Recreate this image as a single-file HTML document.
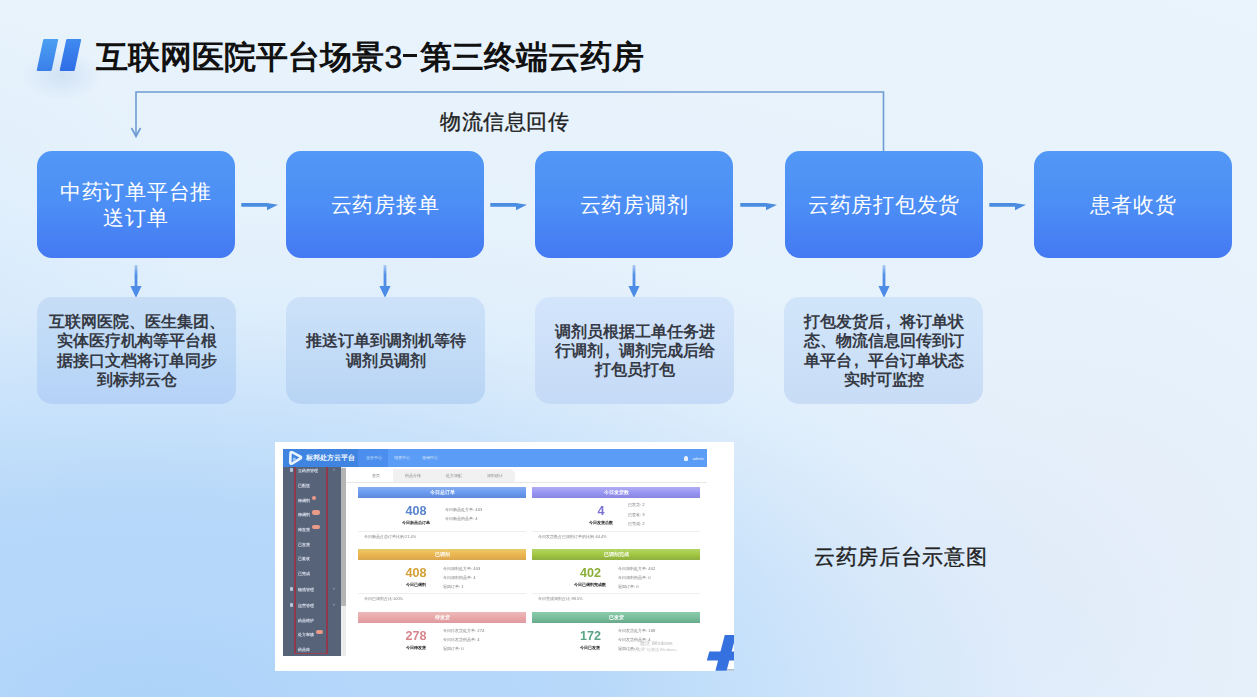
<!DOCTYPE html>
<html><head><meta charset="utf-8">
<style>
*{margin:0;padding:0;box-sizing:border-box}
html,body{width:1257px;height:697px;overflow:hidden}
body{position:relative;font-family:"Liberation Sans",sans-serif;
background:
 radial-gradient(ellipse 330px 300px at 1080px 560px, rgba(226,226,242,0.3), rgba(226,226,242,0.15) 50%, rgba(226,226,242,0) 100%),
 radial-gradient(ellipse 230px 280px at -40px 290px, rgba(173,211,249,0.16), rgba(173,211,249,0) 100%),
 radial-gradient(ellipse 1100px 500px at 150px 700px, rgba(173,211,249,1) 0%, rgba(173,211,249,0.89) 20%, rgba(173,211,249,0.835) 40%, rgba(173,211,249,0.506) 60%, rgba(173,211,249,0.176) 80%, rgba(173,211,249,0.058) 100%, rgba(173,211,249,0.031) 150%, rgba(173,211,249,0) 200%),
 #eaf4fc;
}
.abs{position:absolute}
.n3{display:inline-block;margin-left:0.5px;font-size:32px;letter-spacing:-1.3px;font-weight:normal;-webkit-text-stroke:0.6px #111}
.dash{display:inline-block;width:14px;height:3px;background:#111;margin:0 3px 0 1.5px;vertical-align:11px}
.title{left:96px;top:35px;font-size:32px;font-weight:bold;color:#111;letter-spacing:0;white-space:nowrap;line-height:44px}
.bar{position:absolute;width:14.5px;height:31.5px;transform:skewX(-12deg);border-radius:1px}
.box{position:absolute;top:151px;width:198px;height:107px;border-radius:15px;
 background:linear-gradient(180deg,#5298f6 0%,#4c8ef5 50%,#4479f3 100%);
 color:#fff;font-size:21px;letter-spacing:0.7px;line-height:25.8px;padding-top:1px;text-align:center;display:flex;align-items:center;justify-content:center;}
.desc{position:absolute;top:297px;width:199px;height:107px;border-radius:15px;
 color:#363a44;font-size:16px;line-height:19.2px;text-align:center;display:flex;align-items:center;justify-content:center;font-weight:bold}
.cm{display:inline-block;width:16px;text-align:left;padding-left:2.5px;font-family:"Liberation Sans",sans-serif;font-weight:bold;font-size:17px}
.harrow{position:absolute;top:199px;width:40px;height:14px}
.varrow{position:absolute;top:264px;width:14px;height:34px}
.lbl{font-size:21.3px;color:#222;white-space:nowrap;font-weight:500;-webkit-text-stroke:0.35px #222}
</style></head>
<body>
<!-- title icon -->
<div class="abs" style="left:22px;top:50px;width:80px;height:50px;border-radius:50%;background:radial-gradient(closest-side,rgba(150,180,225,0.26),rgba(150,180,225,0))"></div>
<div class="bar" style="left:40px;top:38.6px;background:linear-gradient(180deg,#4aa0f2,#3a7fea)"></div>
<div class="bar" style="left:63.3px;top:38.6px;background:linear-gradient(180deg,#3f8af0,#2f6de6)"></div>
<div class="abs title">互联网医院平台场景<span class="n3">3</span><span class="dash"></span>第三终端云药房</div>

<!-- feedback line -->
<svg class="abs" style="left:0;top:0" width="1257" height="160">
 <polyline points="883.5,151 883.5,92 136,92 136,136" fill="none" stroke="#6f9bd4" stroke-width="1.6"/>
 <polyline points="131.5,128 136,136.5 140.5,128" fill="none" stroke="#6f9bd4" stroke-width="1.7"/>
</svg>
<div class="abs lbl" style="left:440px;top:107px;letter-spacing:0.5px">物流信息回传</div>

<!-- boxes -->
<div class="box" style="left:37px">中药订单平台推<br>送订单</div>
<div class="box" style="left:286px">云药房接单</div>
<div class="box" style="left:535px">云药房调剂</div>
<div class="box" style="left:785px">云药房打包发货</div>
<div class="box" style="left:1034px">患者收货</div>

<!-- horizontal arrows -->
<svg class="harrow" style="left:241px" viewBox="0 0 40 14"><path d="M0.3 4 H26 L37 5.8 L26 11.3 V7.8 H0.3 Z" fill="#4a8ce0"/></svg>
<svg class="harrow" style="left:490px" viewBox="0 0 40 14"><path d="M0.3 4 H26 L37 5.8 L26 11.3 V7.8 H0.3 Z" fill="#4a8ce0"/></svg>
<svg class="harrow" style="left:740px" viewBox="0 0 40 14"><path d="M0.3 4 H26 L37 5.8 L26 11.3 V7.8 H0.3 Z" fill="#4a8ce0"/></svg>
<svg class="harrow" style="left:989px" viewBox="0 0 40 14"><path d="M0.3 4 H26 L37 5.8 L26 11.3 V7.8 H0.3 Z" fill="#4a8ce0"/></svg>

<!-- vertical arrows -->
<svg class="varrow" style="left:129px" viewBox="0 0 14 34"><defs><linearGradient id="vg" x1="0" y1="0" x2="0" y2="1"><stop offset="0" stop-color="#4a8ae6" stop-opacity="0.35"/><stop offset="0.3" stop-color="#4a8ae6" stop-opacity="0.95"/><stop offset="1" stop-color="#4a8ae6"/></linearGradient></defs><path d="M5.6 1 H8.4 V22 H12.6 L7 33.8 L1.4 22 H5.6 Z" fill="url(#vg)"/></svg>
<svg class="varrow" style="left:378px" viewBox="0 0 14 34"><path d="M5.6 1 H8.4 V22 H12.6 L7 33.8 L1.4 22 H5.6 Z" fill="url(#vg)"/></svg>
<svg class="varrow" style="left:627px" viewBox="0 0 14 34"><path d="M5.6 1 H8.4 V22 H12.6 L7 33.8 L1.4 22 H5.6 Z" fill="url(#vg)"/></svg>
<svg class="varrow" style="left:877px" viewBox="0 0 14 34"><path d="M5.6 1 H8.4 V22 H12.6 L7 33.8 L1.4 22 H5.6 Z" fill="url(#vg)"/></svg>

<!-- descriptions -->
<div class="desc" style="left:37px;background:linear-gradient(180deg,#c7ddf6,#bedaf7 50%,#b5d1f7)"><div>互联网医院、医生集团、<br>实体医疗机构等平台根<br>据接口文档将订单同步<br>到标邦云仓</div></div>
<div class="desc" style="left:286px;background:linear-gradient(180deg,#cde2f9,#b8d4f4)"><div>推送订单到调剂机等待<br>调剂员调剂</div></div>
<div class="desc" style="left:535px;background:linear-gradient(180deg,#d3e5fb,#c5daf6)"><div>调剂员根据工单任务进<br>行调剂<span class="cm">,</span>调剂完成后给<br>打包员打包</div></div>
<div class="desc" style="left:784px;background:linear-gradient(180deg,#d1e5fa,#c8dcf6)"><div>打包发货后<span class="cm">,</span>将订单状<br>态、物流信息回传到订<br>单平台<span class="cm">,</span>平台订单状态<br>实时可监控</div></div>

<div class="abs lbl" style="left:814px;top:542.5px;font-size:21px;letter-spacing:0.7px">云药房后台示意图</div>

<!-- MOCK -->
<div id="mock" class="abs" style="left:275px;top:442px;width:459px;height:229px;background:#fff;overflow:hidden"><div style="position:absolute;left:0;top:0;width:459px;height:229px;filter:blur(0.45px)"><div style="position:absolute;left:8.0px;top:7.3px;width:423.5px;height:206.2px;background:#fff"></div><div style="position:absolute;left:8.0px;top:7.3px;width:423.5px;height:17.3px;background:#5b9cf6"></div><div style="position:absolute;left:8.0px;top:7.3px;width:75.0px;height:17.3px;background:#3f84e0"></div><div style="position:absolute;left:83.0px;top:7.3px;width:29.5px;height:17.3px;background:#4b8eee"></div><svg style="position:absolute;left:13px;top:9px" width="15" height="14" viewBox="0 0 15 14"><path d="M2.5 2.2 Q2.5 0.8 4 1.2 L12.5 5.6 Q13.8 6.5 12.5 7.4 L4 12.6 Q2.5 13.2 2.2 11.6 Z" fill="none" stroke="#eaf4ff" stroke-width="2.6" stroke-linejoin="round"/><circle cx="6.3" cy="8.2" r="1.6" fill="#9cc8f5"/></svg><div style="position:absolute;left:30.5px;top:11.7px;font-size:6.9px;line-height:8.3px;color:#f2f8ff;font-weight:bold;white-space:nowrap;">标邦处方云平台</div><div style="position:absolute;left:90.5px;top:12.8px;font-size:4.2px;line-height:5.0px;color:#d6e6fb;font-weight:normal;white-space:nowrap;">业务中心</div><div style="position:absolute;left:118.5px;top:12.8px;font-size:4.2px;line-height:5.0px;color:#d6e6fb;font-weight:normal;white-space:nowrap;">报表中心</div><div style="position:absolute;left:146.5px;top:12.8px;font-size:4.2px;line-height:5.0px;color:#d6e6fb;font-weight:normal;white-space:nowrap;">促销中心</div><div style="position:absolute;left:409.0px;top:13.5px;width:4.0px;height:5.0px;background:#e8f0fb;border-radius:2px 2px 1px 1px"></div><div style="position:absolute;left:417.5px;top:13.5px;font-size:4.2px;line-height:5.0px;color:#e6effb;font-weight:normal;white-space:nowrap;">admin</div><div style="position:absolute;left:8.0px;top:24.6px;width:58.0px;height:189.0px;background:#576379"></div><div style="position:absolute;left:18.6px;top:24.6px;width:2.2px;height:187.5px;background:#8e3a4c"></div><div style="position:absolute;left:51.2px;top:24.6px;width:2.2px;height:187.5px;background:#8e3a4c"></div><div style="position:absolute;left:18.6px;top:210.6px;width:34.8px;height:1.8px;background:#9a4050"></div><div style="position:absolute;left:23.0px;top:25.8px;font-size:4.4px;line-height:5.3px;color:#d8deea;font-weight:bold;white-space:nowrap;">云药房管理</div><div style="position:absolute;left:14.5px;top:26.4px;width:3.2px;height:4.0px;background:#b9c3d6;border-radius:1px"></div><div style="position:absolute;left:57.5px;top:25.4px;font-size:5px;line-height:6.0px;color:#9aa5ba;font-weight:normal;white-space:nowrap;">˅</div><div style="position:absolute;left:23.0px;top:41.4px;font-size:4.4px;line-height:5.3px;color:#d8deea;font-weight:bold;white-space:nowrap;">已配送</div><div style="position:absolute;left:23.0px;top:56.0px;font-size:4.4px;line-height:5.3px;color:#d8deea;font-weight:bold;white-space:nowrap;">待调剂</div><div style="position:absolute;left:36.5px;top:53.6px;width:4.6px;height:4.6px;background:#ec9a88;border-radius:50%"></div><div style="position:absolute;left:23.0px;top:70.0px;font-size:4.4px;line-height:5.3px;color:#d8deea;font-weight:bold;white-space:nowrap;">待调剂</div><div style="position:absolute;left:36.5px;top:68.4px;width:8.5px;height:4.4px;background:#ec9a88;border-radius:2.2px"></div><div style="position:absolute;left:23.0px;top:84.5px;font-size:4.4px;line-height:5.3px;color:#d8deea;font-weight:bold;white-space:nowrap;">待发货</div><div style="position:absolute;left:36.5px;top:82.9px;width:8.5px;height:4.4px;background:#ec9a88;border-radius:2.2px"></div><div style="position:absolute;left:23.0px;top:99.6px;font-size:4.4px;line-height:5.3px;color:#d8deea;font-weight:bold;white-space:nowrap;">已发货</div><div style="position:absolute;left:23.0px;top:114.2px;font-size:4.4px;line-height:5.3px;color:#d8deea;font-weight:bold;white-space:nowrap;">已签收</div><div style="position:absolute;left:23.0px;top:128.6px;font-size:4.4px;line-height:5.3px;color:#d8deea;font-weight:bold;white-space:nowrap;">已完成</div><div style="position:absolute;left:23.0px;top:144.6px;font-size:4.4px;line-height:5.3px;color:#d8deea;font-weight:bold;white-space:nowrap;">物流管理</div><div style="position:absolute;left:14.5px;top:145.2px;width:3.2px;height:4.0px;background:#b9c3d6;border-radius:1px"></div><div style="position:absolute;left:57.5px;top:144.2px;font-size:5px;line-height:6.0px;color:#9aa5ba;font-weight:normal;white-space:nowrap;">˅</div><div style="position:absolute;left:23.0px;top:160.7px;font-size:4.4px;line-height:5.3px;color:#d8deea;font-weight:bold;white-space:nowrap;">运营管理</div><div style="position:absolute;left:14.5px;top:161.3px;width:3.2px;height:4.0px;background:#b9c3d6;border-radius:1px"></div><div style="position:absolute;left:57.5px;top:160.3px;font-size:5px;line-height:6.0px;color:#9aa5ba;font-weight:normal;white-space:nowrap;">˅</div><div style="position:absolute;left:23.0px;top:175.7px;font-size:4.4px;line-height:5.3px;color:#d8deea;font-weight:bold;white-space:nowrap;">药品维护</div><div style="position:absolute;left:23.0px;top:190.0px;font-size:4.4px;line-height:5.3px;color:#d8deea;font-weight:bold;white-space:nowrap;">处方审核</div><div style="position:absolute;left:40.5px;top:188.0px;width:7.5px;height:4.4px;background:#ec9a88;border-radius:2.2px"></div><div style="position:absolute;left:23.0px;top:205.4px;font-size:4.4px;line-height:5.3px;color:#d8deea;font-weight:bold;white-space:nowrap;">药品库</div><div style="position:absolute;left:66.0px;top:24.6px;width:5.2px;height:189.0px;background:#ececec"></div><div style="position:absolute;left:66.4px;top:26.0px;width:4.4px;height:138.0px;background:#b4b4b4;border-radius:1px"></div><div style="position:absolute;left:71.0px;top:24.6px;width:360.5px;height:16.5px;background:#ffffff"></div><div style="position:absolute;left:83.0px;top:27.0px;width:35.0px;height:14.0px;background:#ffffff"></div><div style="position:absolute;left:118.0px;top:27.0px;width:122.0px;height:14.0px;background:#f1f1f1;border-radius:0 6px 0 0"></div><div style="position:absolute;left:40.5px;width:120px;text-align:center;top:31.4px;font-size:4.3px;line-height:5.2px;color:#8b8b8b;font-weight:normal;white-space:nowrap;">首页</div><div style="position:absolute;left:78.0px;width:120px;text-align:center;top:31.4px;font-size:4.3px;line-height:5.2px;color:#8b8b8b;font-weight:normal;white-space:nowrap;">药品分拣</div><div style="position:absolute;left:119.0px;width:120px;text-align:center;top:31.4px;font-size:4.3px;line-height:5.2px;color:#8b8b8b;font-weight:normal;white-space:nowrap;">处方调配</div><div style="position:absolute;left:160.0px;width:120px;text-align:center;top:31.4px;font-size:4.3px;line-height:5.2px;color:#8b8b8b;font-weight:normal;white-space:nowrap;">调剂统计</div><div style="position:absolute;left:71.0px;top:39.8px;width:360.5px;height:0.8px;background:#e6e6e6"></div><div style="position:absolute;left:83.0px;top:45.2px;width:168.2px;height:10.5px;background:linear-gradient(#86aeee,#6a9af2 50%,#5f8ad8)"></div><div style="position:absolute;left:107.1px;width:120px;text-align:center;top:48.0px;font-size:4.6px;line-height:5.5px;color:#ffffff;font-weight:bold;white-space:nowrap;">今日总订单</div><div style="position:absolute;left:81.0px;width:120px;text-align:center;top:62.0px;font-size:12.6px;line-height:15.1px;color:#5a84cc;font-weight:bold;white-space:nowrap;font-family:'Liberation Sans',sans-serif">408</div><div style="position:absolute;left:81.0px;width:120px;text-align:center;top:78.2px;font-size:4.4px;line-height:5.3px;color:#222;font-weight:bold;white-space:nowrap;">今日新品总订单</div><div style="position:absolute;left:170.0px;top:65.1px;font-size:4.2px;line-height:5.0px;color:#7a7a7a;font-weight:normal;white-space:nowrap;">今日新品处方单: 403</div><div style="position:absolute;left:170.0px;top:74.4px;font-size:4.2px;line-height:5.0px;color:#7a7a7a;font-weight:normal;white-space:nowrap;">今日新品药品单: 4</div><div style="position:absolute;left:83.0px;top:89.0px;width:168.2px;height:0.7px;background:#efefef"></div><div style="position:absolute;left:89.0px;top:92.9px;font-size:3.9px;line-height:4.7px;color:#7d7d7d;font-weight:normal;white-space:nowrap;">今日新品占总订单比例:21.4%</div><div style="position:absolute;left:257.1px;top:45.2px;width:168.2px;height:10.5px;background:linear-gradient(#b2aef0,#9896f4 50%,#8a86e0)"></div><div style="position:absolute;left:281.2px;width:120px;text-align:center;top:48.0px;font-size:4.6px;line-height:5.5px;color:#ffffff;font-weight:bold;white-space:nowrap;">今日发货数</div><div style="position:absolute;left:266.0px;width:120px;text-align:center;top:62.0px;font-size:12.6px;line-height:15.1px;color:#7a72d2;font-weight:bold;white-space:nowrap;font-family:'Liberation Sans',sans-serif">4</div><div style="position:absolute;left:266.0px;width:120px;text-align:center;top:78.2px;font-size:4.4px;line-height:5.3px;color:#222;font-weight:bold;white-space:nowrap;">今日发货总数</div><div style="position:absolute;left:353.0px;top:60.2px;font-size:4.2px;line-height:5.0px;color:#7a7a7a;font-weight:normal;white-space:nowrap;">已发货: 2</div><div style="position:absolute;left:353.0px;top:69.5px;font-size:4.2px;line-height:5.0px;color:#7a7a7a;font-weight:normal;white-space:nowrap;">已签收: 3</div><div style="position:absolute;left:353.0px;top:79.1px;font-size:4.2px;line-height:5.0px;color:#7a7a7a;font-weight:normal;white-space:nowrap;">已完成: 2</div><div style="position:absolute;left:257.1px;top:89.0px;width:168.2px;height:0.7px;background:#efefef"></div><div style="position:absolute;left:263.4px;top:92.9px;font-size:3.9px;line-height:4.7px;color:#7d7d7d;font-weight:normal;white-space:nowrap;">今日发货数占已调剂订单的比例:44.4%</div><div style="position:absolute;left:83.0px;top:107.0px;width:168.2px;height:11.2px;background:linear-gradient(#eacb6a,#ecb650 50%,#d9a64e)"></div><div style="position:absolute;left:107.1px;width:120px;text-align:center;top:110.1px;font-size:4.6px;line-height:5.5px;color:#ffffff;font-weight:bold;white-space:nowrap;">已调剂</div><div style="position:absolute;left:81.0px;width:120px;text-align:center;top:123.8px;font-size:12.6px;line-height:15.1px;color:#d3a035;font-weight:bold;white-space:nowrap;font-family:'Liberation Sans',sans-serif">408</div><div style="position:absolute;left:81.0px;width:120px;text-align:center;top:140.0px;font-size:4.4px;line-height:5.3px;color:#222;font-weight:bold;white-space:nowrap;">今日已调剂</div><div style="position:absolute;left:168.0px;top:123.5px;font-size:4.2px;line-height:5.0px;color:#7a7a7a;font-weight:normal;white-space:nowrap;">今日调剂处方单: 403</div><div style="position:absolute;left:168.0px;top:132.5px;font-size:4.2px;line-height:5.0px;color:#7a7a7a;font-weight:normal;white-space:nowrap;">今日调剂药品单: 4</div><div style="position:absolute;left:168.0px;top:141.5px;font-size:4.2px;line-height:5.0px;color:#7a7a7a;font-weight:normal;white-space:nowrap;">退回订单: 1</div><div style="position:absolute;left:83.0px;top:150.8px;width:168.2px;height:0.7px;background:#efefef"></div><div style="position:absolute;left:89.0px;top:154.7px;font-size:3.9px;line-height:4.7px;color:#7d7d7d;font-weight:normal;white-space:nowrap;">今日已调剂占比:100%</div><div style="position:absolute;left:257.1px;top:107.0px;width:168.2px;height:11.2px;background:linear-gradient(#b2d664,#a2c842 50%,#8fae40)"></div><div style="position:absolute;left:281.2px;width:120px;text-align:center;top:110.1px;font-size:4.6px;line-height:5.5px;color:#ffffff;font-weight:bold;white-space:nowrap;">已调剂完成</div><div style="position:absolute;left:255.4px;width:120px;text-align:center;top:123.8px;font-size:12.6px;line-height:15.1px;color:#8aae38;font-weight:bold;white-space:nowrap;font-family:'Liberation Sans',sans-serif">402</div><div style="position:absolute;left:255.4px;width:120px;text-align:center;top:140.0px;font-size:4.4px;line-height:5.3px;color:#222;font-weight:bold;white-space:nowrap;">今日已调剂完成数</div><div style="position:absolute;left:343.0px;top:123.5px;font-size:4.2px;line-height:5.0px;color:#7a7a7a;font-weight:normal;white-space:nowrap;">今日调剂处方单: 402</div><div style="position:absolute;left:343.0px;top:132.5px;font-size:4.2px;line-height:5.0px;color:#7a7a7a;font-weight:normal;white-space:nowrap;">今日调剂药品单: 0</div><div style="position:absolute;left:343.0px;top:141.5px;font-size:4.2px;line-height:5.0px;color:#7a7a7a;font-weight:normal;white-space:nowrap;">退回订单: 0</div><div style="position:absolute;left:257.1px;top:150.8px;width:168.2px;height:0.7px;background:#efefef"></div><div style="position:absolute;left:263.4px;top:154.7px;font-size:3.9px;line-height:4.7px;color:#7d7d7d;font-weight:normal;white-space:nowrap;">今日完成调剂占比:98.5%</div><div style="position:absolute;left:83.0px;top:170.0px;width:168.2px;height:11.3px;background:linear-gradient(#ecbaba,#e8a8a8 50%,#df9aa0)"></div><div style="position:absolute;left:107.1px;width:120px;text-align:center;top:173.2px;font-size:4.6px;line-height:5.5px;color:#ffffff;font-weight:bold;white-space:nowrap;">待发货</div><div style="position:absolute;left:81.0px;width:120px;text-align:center;top:186.8px;font-size:12.6px;line-height:15.1px;color:#d8868e;font-weight:bold;white-space:nowrap;font-family:'Liberation Sans',sans-serif">278</div><div style="position:absolute;left:81.0px;width:120px;text-align:center;top:203.0px;font-size:4.4px;line-height:5.3px;color:#222;font-weight:bold;white-space:nowrap;">今日待发货</div><div style="position:absolute;left:168.0px;top:186.2px;font-size:4.2px;line-height:5.0px;color:#7a7a7a;font-weight:normal;white-space:nowrap;">今日待发货处方单: 274</div><div style="position:absolute;left:168.0px;top:195.0px;font-size:4.2px;line-height:5.0px;color:#7a7a7a;font-weight:normal;white-space:nowrap;">今日待发货药品单: 4</div><div style="position:absolute;left:168.0px;top:203.8px;font-size:4.2px;line-height:5.0px;color:#7a7a7a;font-weight:normal;white-space:nowrap;">退回订单: 0</div><div style="position:absolute;left:257.1px;top:170.0px;width:168.2px;height:11.3px;background:linear-gradient(#8ccca9,#78be9e 50%,#6aa98a)"></div><div style="position:absolute;left:281.2px;width:120px;text-align:center;top:173.2px;font-size:4.6px;line-height:5.5px;color:#ffffff;font-weight:bold;white-space:nowrap;">已发货</div><div style="position:absolute;left:255.4px;width:120px;text-align:center;top:186.8px;font-size:12.6px;line-height:15.1px;color:#5aa486;font-weight:bold;white-space:nowrap;font-family:'Liberation Sans',sans-serif">172</div><div style="position:absolute;left:255.4px;width:120px;text-align:center;top:203.0px;font-size:4.4px;line-height:5.3px;color:#222;font-weight:bold;white-space:nowrap;">今日已发货</div><div style="position:absolute;left:343.0px;top:186.2px;font-size:4.2px;line-height:5.0px;color:#7a7a7a;font-weight:normal;white-space:nowrap;">今日发货处方单: 168</div><div style="position:absolute;left:343.0px;top:195.0px;font-size:4.2px;line-height:5.0px;color:#7a7a7a;font-weight:normal;white-space:nowrap;">今日发货药品单: 4</div><div style="position:absolute;left:343.0px;top:203.8px;font-size:4.2px;line-height:5.0px;color:#7a7a7a;font-weight:normal;white-space:nowrap;">退回订单: 0</div><div style="position:absolute;left:365.0px;top:197.6px;font-size:5.2px;line-height:6.2px;color:#b8b8b8;font-weight:normal;white-space:nowrap;">激活 Windows</div><div style="position:absolute;left:353.0px;top:205.9px;font-size:4px;line-height:4.8px;color:#c4c4c4;font-weight:normal;white-space:nowrap;">转到“设置”以激活 Windows。</div></div><svg style="position:absolute;left:425px;top:188px" width="34.1" height="42" viewBox="700 630 34.1 42"><polygon points="724.8,635 736,635 726.6,670.8 715.4,670.8" fill="#3571df"/><polygon points="709.3,651.5 740,651.5 740,660.5 706.8,660.5" fill="#3571df"/><rect x="727" y="669.3" width="8" height="1.2" fill="#8aa4b4"/></svg></div>
</body></html>
